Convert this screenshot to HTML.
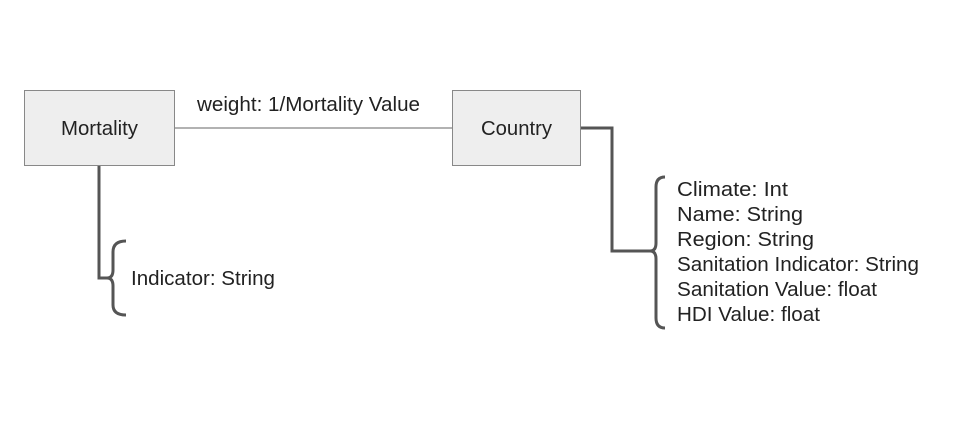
<!DOCTYPE html>
<html><head><style>
body{margin:0;background:#fff;width:962px;height:424px;overflow:hidden;font-family:"Liberation Sans",Arial,sans-serif;}
</style></head><body>
<svg width="962" height="424" xmlns="http://www.w3.org/2000/svg" font-family="Liberation Sans, Arial, sans-serif" font-size="20" fill="#222" xml:space="preserve">
<rect x="24.5" y="90.5" width="150" height="75" fill="#eeeeee" stroke="#888" stroke-width="1"/>
<rect x="452.5" y="90.5" width="128" height="75" fill="#eeeeee" stroke="#888" stroke-width="1"/>
<text x="61" y="135" textLength="77" lengthAdjust="spacingAndGlyphs">Mortality</text>
<text x="481" y="135" textLength="71" lengthAdjust="spacingAndGlyphs">Country</text>
<line x1="175" y1="128" x2="452" y2="128" stroke="#999" stroke-width="1.5"/>
<text x="197" y="111" textLength="223" lengthAdjust="spacingAndGlyphs">weight: 1/Mortality Value</text>
<path d="M99 166 V278 H107" fill="none" stroke="#555" stroke-width="3"/>
<path d="M126 241 Q113 241 113 252 V270 Q113 278 107 278 Q113 278 113 286 V305 Q113 315 126 315" fill="none" stroke="#555" stroke-width="3"/>
<text x="131" y="285" textLength="144" lengthAdjust="spacingAndGlyphs">Indicator: String</text>
<path d="M581 128 H612 V251 H650" fill="none" stroke="#555" stroke-width="3"/>
<path d="M665 177 Q656 177 656 187 V243 Q656 251 650 251 Q656 251 656 259 V318 Q656 328 665 328" fill="none" stroke="#555" stroke-width="3"/>
<text x="677" y="196" textLength="111" lengthAdjust="spacingAndGlyphs">Climate:  Int</text>
<text x="677" y="221" textLength="126" lengthAdjust="spacingAndGlyphs">Name:  String</text>
<text x="677" y="246" textLength="137" lengthAdjust="spacingAndGlyphs">Region:  String</text>
<text x="677" y="271" textLength="242" lengthAdjust="spacingAndGlyphs">Sanitation Indicator: String</text>
<text x="677" y="296" textLength="200" lengthAdjust="spacingAndGlyphs">Sanitation Value: float</text>
<text x="677" y="321" textLength="143" lengthAdjust="spacingAndGlyphs">HDI Value: float</text>
</svg>
</body></html>
